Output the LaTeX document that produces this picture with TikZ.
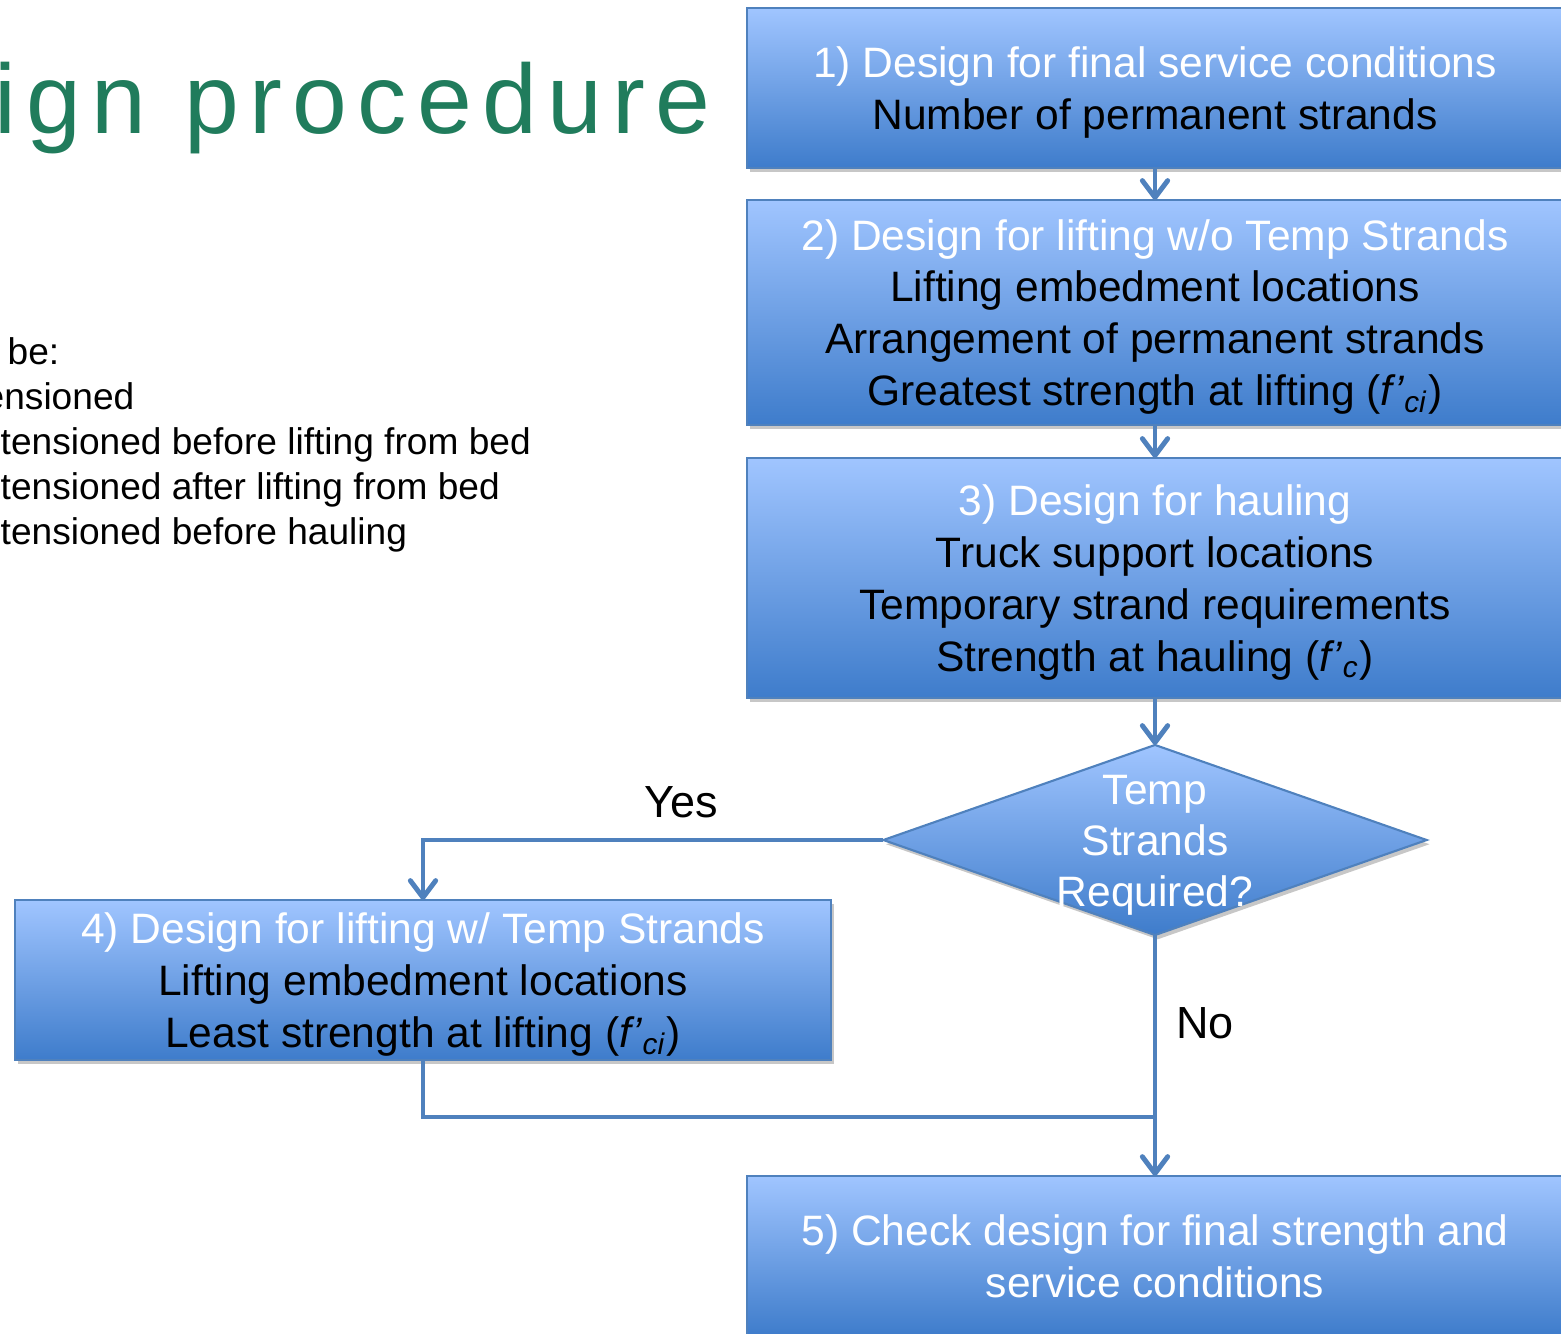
\documentclass[tikz,border=0pt]{standalone}
\usepackage{fontspec}
\setmainfont{Liberation Sans}
\newfontfamily\titlefont[LetterSpace=10.5]{Liberation Sans}
\usetikzlibrary{arrows.meta,shapes.geometric,shadows}
\definecolor{boxtop}{RGB}{160,197,255}
\definecolor{boxbot}{RGB}{62,124,203}
\definecolor{edgeblue}{RGB}{79,129,189}
\definecolor{titlegreen}{RGB}{32,124,92}
\tikzset{
  softshadow/.style={drop shadow={shadow xshift=0.8pt, shadow yshift=-1.2pt, opacity=0.22, fill=black}},
  flowbox/.style={rectangle, draw=edgeblue, line width=0.6pt, top color=boxtop, bottom color=boxbot,
    minimum width=8.16cm, align=center, inner sep=0pt, outer sep=0pt, text depth=0pt,
    font=\fontsize{12.1}{14.75}\selectfont, softshadow},
  decision/.style={diamond, draw=edgeblue, line width=0.6pt, top color=boxtop, bottom color=boxbot,
    minimum width=5.43cm, minimum height=1.9cm, inner sep=0pt, outer sep=0pt, softshadow},
  dectext/.style={align=center, text=white, inner sep=0pt, text depth=0pt, font=\fontsize{12.1}{14.5}\selectfont},
  conn/.style={draw=edgeblue, line width=1.4pt},
  arr/.style={conn, -{Straight Barb[length=4.8pt,width=7.2pt,round]}},
  lbl/.style={font=\fontsize{12.8}{15}\selectfont, inner sep=0pt},
  sidetext/.style={anchor=base west, inner sep=0pt, font=\fontsize{10.55}{12.8}\selectfont}
}
\newcommand{\wt}[1]{{\color{white}#1}}
\newcommand{\fci}{(\textit{f’}\textsubscript{\textit{ci}})}
\newcommand{\fc}{(\textit{f’}\textsubscript{\textit{c}})}
\begin{document}
\begin{tikzpicture}[x=0.01cm,y=-0.01cm]
\useasboundingbox (0,0) rectangle (1561,1333);

% title and side text
\node[anchor=base west, inner sep=0pt, text=titlegreen, font=\titlefont\fontsize{28}{30}\selectfont] (title) at (-6,133) {ign procedure};
\node[sidetext] (s1) at (7,364) {be:};
\node[sidetext] (s2) at (-17,409.5) {ensioned};
\node[sidetext] (s3) at (0,454) {tensioned before lifting from bed};
\node[sidetext] (s4) at (0,499) {tensioned after lifting from bed};
\node[sidetext] (s5) at (0,544) {tensioned before hauling};

% boxes
\node[flowbox, minimum height=1.6cm] (b1) at (1155,88)
  {\wt{1) Design for final service conditions}\\ Number of permanent strands};
\node[flowbox, minimum height=2.25cm] (b2) at (1155,312.5)
  {\wt{2) Design for lifting w/o Temp Strands}\\ Lifting embedment locations\\ Arrangement of permanent strands\\ Greatest strength at lifting \fci};
\node[flowbox, minimum height=2.4cm] (b3) at (1155,578)
  {\wt{3) Design for hauling}\\ Truck support locations\\ Temporary strand requirements\\ Strength at hauling \fc};
\node[decision] (dia) at (1155,840) {};
\node[dectext] (diat) at (1155,841) {Temp\\ Strands\\ Required?};
\node[flowbox, minimum height=1.6cm] (b4) at (423,980)
  {\wt{4) Design for lifting w/ Temp Strands}\\ Lifting embedment locations\\ Least strength at lifting \fci};
\node[flowbox, minimum height=1.6cm] (b5) at (1155,1256)
  {\wt{5) Check design for final strength and}\\ \wt{service conditions}};

% connectors
\draw[arr] (b1.south) -- (b2.north);
\draw[arr] (b2.south) -- (b3.north);
\draw[arr] (b3.south) -- (dia.north);
\draw[arr] (dia.west) -| (b4.north);
\draw[arr] (dia.south) -- (b5.north);
\coordinate (join) at (1155,1117);
\draw[conn] (b4.south) |- (join);

\node[lbl] (yes) at (681,802) {Yes};
\node[lbl] (no) at (1205,1023) {No};
\end{tikzpicture}
\end{document}
